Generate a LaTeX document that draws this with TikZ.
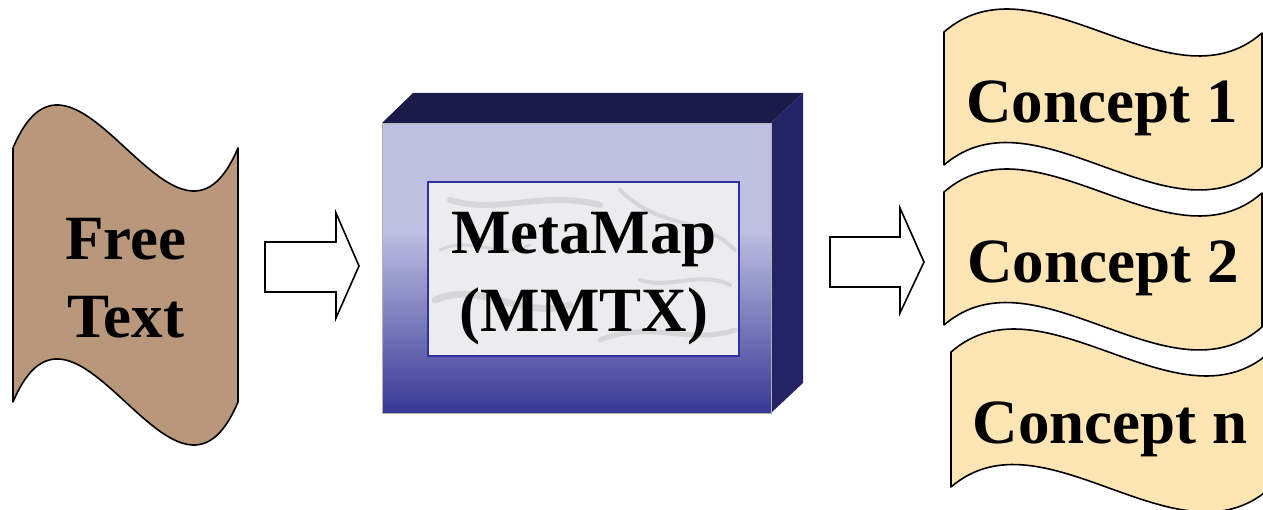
\documentclass[tikz,border=0pt]{standalone}
\usepackage{fontspec}
\setmainfont{Liberation Serif}
\definecolor{freefill}{RGB}{185,151,122}
\definecolor{conceptfill}{RGB}{255,229,180}
\definecolor{boxlight}{RGB}{190,191,225}
\definecolor{boxdark}{RGB}{55,56,150}
\definecolor{boxtop}{RGB}{27,26,72}
\definecolor{boxside}{RGB}{35,35,102}
\definecolor{marble}{RGB}{236,236,238}
\definecolor{vein}{RGB}{175,175,180}
\definecolor{innerline}{RGB}{48,48,160}
\tikzset{
  wavy/.style={draw=black, line width=1.6pt, line join=round},
  blockarrow/.style={draw=black, line width=1.6pt, fill=white, line join=miter},
  bigtext/.style={font=\bfseries\fontsize{63}{78}\selectfont, align=center, inner sep=0pt},
  veinstroke/.style={draw=vein, line cap=round, opacity=0.35},
}
\begin{document}
\begin{tikzpicture}[x=1pt,y=-1pt]
\useasboundingbox (0,0) rectangle (1263,510);
\begin{scope}
\clip (0,0) rectangle (1263,510);

% Free text document shape
\path[wavy, fill=freefill]
  (13,148) .. controls (76,-1) and (175,297) .. (238,148)
  -- (238,402) .. controls (175,551) and (76,253) .. (13,402) -- cycle;
\node[bigtext, anchor=north] (free) at (126,218) {Free\\Text};

% first block arrow
\path[blockarrow] (265,242) coordinate (a1s) -- (336,242) -- (336,213) -- (359,266) coordinate (a1t)
  -- (336,318) -- (336,292) -- (265,292) -- cycle;

% MetaMap box
\fill[boxtop] (382,123) -- (413,93) -- (803,93) -- (771,123) -- cycle;
\fill[boxside] (771,123) -- (803,93) -- (803,383) -- (771,413) -- cycle;
\fill[boxlight] (382,123) rectangle (771,231);
\shade[top color=boxlight, bottom color=boxdark] (382,230) rectangle (771,413);
\draw[gray!60, line width=0.6pt] (382,123) rectangle (771,413);
\fill[marble] (428,182) rectangle (739,356);
\begin{scope}
\clip (428,182) rectangle (739,356);
\draw[veinstroke, line width=6pt] (450,200) .. controls (500,215) and (540,190) .. (600,205);
\draw[veinstroke, line width=4pt] (620,190) .. controls (660,230) and (700,215) .. (735,250);
\draw[veinstroke, line width=7pt] (435,300) .. controls (480,280) and (520,320) .. (570,305);
\draw[veinstroke, line width=5pt] (600,340) .. controls (650,320) and (690,345) .. (735,330);
\draw[veinstroke, line width=3pt] (440,250) .. controls (470,235) and (500,260) .. (530,245);
\draw[veinstroke, line width=4pt] (640,280) .. controls (670,290) and (700,270) .. (730,285);
\end{scope}
\draw[innerline, line width=1.4pt] (428,182) rectangle (739,356);
\node[bigtext, anchor=north] (mm) at (584,212) {MetaMap\\(MMTX)};

% second block arrow
\path[blockarrow] (830,237) coordinate (a2s) -- (900,237) -- (900,208) -- (924,262) coordinate (a2t)
  -- (900,313) -- (900,287) -- (830,287) -- cycle;

% Concept shapes
\path[wavy, fill=conceptfill]
  (944,32) .. controls (1036,-48) and (1170,113) .. (1262,33)
  -- (1262,167) .. controls (1170,247) and (1036,86) .. (944,165) -- cycle;
\node[bigtext, anchor=base] (c1) at (1102,123) {Concept 1};

\path[wavy, fill=conceptfill]
  (944,192) .. controls (1036,112) and (1170,273) .. (1262,193)
  -- (1262,327) .. controls (1170,407) and (1036,246) .. (944,325) -- cycle;
\node[bigtext, anchor=base] (c2) at (1103,283) {Concept 2};

\path[wavy, fill=conceptfill]
  (951,352) .. controls (1043,272) and (1177,433) .. (1269,353)
  -- (1269,489) .. controls (1177,569) and (1043,408) .. (951,487) -- cycle;
\node[bigtext, anchor=base] (cn) at (1110,443) {Concept n};
\end{scope}
\end{tikzpicture}
\end{document}
